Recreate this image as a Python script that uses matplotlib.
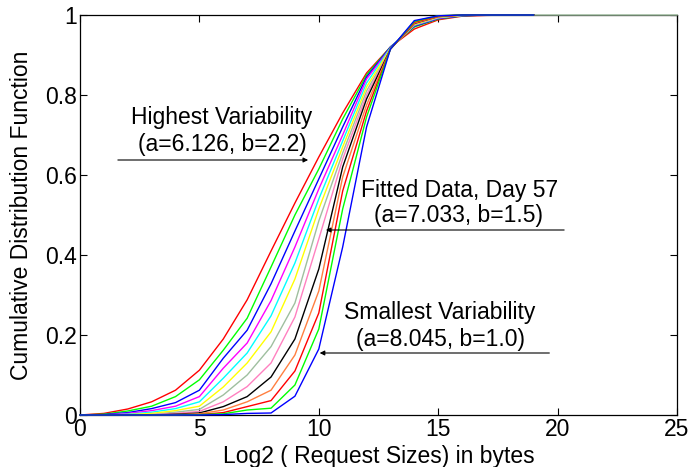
import matplotlib
matplotlib.use("Agg")
import matplotlib.pyplot as plt

plt.rcParams['font.family'] = ['Liberation Sans', 'DejaVu Sans']

# x positions (log2 request size)
x_vals = list(range(0, 20))
x_long = list(range(0, 26))

# CDF curves, from highest variability (left) to smallest variability (right)
c_red1 = [0, .004, .015, .033, .062, .112, .19, .288, .41, .53, .645, .755, .855, .92, .965, .988, .997, .999, 1, 1]
c_green1 = [0, .002, .010, .022, .046, .088, .162, .242, .37, .50, .615, .74, .85, .92, .97, .99, .998, 1, 1, 1]
c_blue1 = [0, .001, .006, .016, .031, .062, .142, .212, .328, .46, .59, .72, .845, .92, .972, .991, .998, 1, 1, 1]
c_magenta = [0, 0, .004, .011, .022, .046, .117, .18, .286, .42, .565, .70, .84, .918, .974, .992, .999, 1, 1, 1]
c_cyan = [0, 0, .002, .007, .016, .033, .092, .155, .248, .38, .54, .685, .83, .918, .975, .993, .999, 1, 1, 1]
c_yellow = [0, 0, .001, .004, .011, .022, .07, .13, .208, .34, .515, .67, .82, .916, .976, .994, .999, 1, 1, 1]
c_gray = [0, 0, 0, .002, .007, .014, .05, .10, .171, .28, .485, .655, .81, .915, .977, .995, 1, 1, 1, 1, 1, 1, 1, 1, 1, 1]
c_pink = [0, 0, 0, .001, .004, .009, .033, .071, .13, .245, .44, .64, .80, .915, .978, .995, 1, 1, 1, 1]
c_black = [0, 0, 0, 0, .002, .005, .021, .046, .095, .19, .365, .62, .79, .915, .979, .996, 1, 1, 1, 1]
c_orange = [0, 0, 0, 0, .001, .003, .0125, .033, .062, .15, .31, .595, .775, .915, .98, .996, 1, 1, 1, 1]
c_red2 = [0, 0, 0, 0, 0, .001, .006, .021, .036, .11, .255, .56, .76, .915, .982, .997, 1, 1, 1, 1]
c_green2 = [0, 0, 0, 0, 0, .001, .003, .0125, .017, .075, .215, .515, .745, .915, .984, .998, 1, 1, 1, 1]
c_blue2 = [0, 0, 0, 0, 0, 0, .001, .004, .005, .047, .165, .42, .72, .915, .986, .998, 1, 1, 1, 1]

curves = [c_gray, c_red1, c_green1, c_blue1, c_magenta, c_cyan, c_yellow,
          c_pink, c_black, c_orange, c_red2, c_green2, c_blue2]
colors = ['#9fbf9f', '#ff0000', '#00ff00', '#0000ff', '#ff00ff', '#00ffff', '#ffff00',
          '#ff80c0', '#000000', '#ff7f40', '#ff0000', '#00ff00', '#0000ff']

x_ticks = [0, 5, 10, 15, 20, 25]
y_ticks = [0, 0.2, 0.4, 0.6, 0.8, 1]
y_tick_labels = ['0', '0.2', '0.4', '0.6', '0.8', '1']

fig = plt.figure(figsize=(6.91, 4.67), dpi=100)
ax = fig.add_axes([80/691, 1-415/467, 597/691, 400/467])

for ys, col in zip(curves, colors):
    xs = x_long if len(ys) == len(x_long) else x_vals
    ax.plot(xs, ys, color=col, lw=1.0, zorder=3, clip_on=False)

ax.set_xlim(0, 25)
ax.set_ylim(0, 1)
ax.set_xticks(x_ticks)
ax.set_xticklabels([str(t) for t in x_ticks])
ax.set_yticks(y_ticks)
ax.set_yticklabels(y_tick_labels)
ax.tick_params(direction='in', top=True, right=True, length=5, width=0.8, labelsize=16.5, pad=2)
for s in ax.spines.values():
    s.set_linewidth(0.9)

ax.set_xlabel('Log2 ( Request Sizes) in bytes', fontsize=16.5, labelpad=3)
ax.set_ylabel('Cumulative Distribution Function', fontsize=16.5, labelpad=9)

fs = 16.5
ax.text(5.95, 0.743, 'Highest Variability', fontsize=fs, ha='center', va='center')
ax.text(5.98, 0.675, '(a=6.126, b=2.2)', fontsize=fs, ha='center', va='center')
ax.annotate('', xy=(9.67, 0.6375), xytext=(1.47, 0.6375),
            arrowprops=dict(arrowstyle='-|>', lw=0.8, color='black', mutation_scale=7))

ax.text(15.9, 0.562, 'Fitted Data, Day 57', fontsize=fs, ha='center', va='center')
ax.text(15.85, 0.498, '(a=7.033, b=1.5)', fontsize=fs, ha='center', va='center')
ax.annotate('', xy=(10.18, 0.4625), xytext=(20.39, 0.4625),
            arrowprops=dict(arrowstyle='-|>', lw=0.8, color='black', mutation_scale=7))

ax.text(15.08, 0.255, 'Smallest Variability', fontsize=fs, ha='center', va='center')
ax.text(15.08, 0.188, '(a=8.045, b=1.0)', fontsize=fs, ha='center', va='center')
ax.annotate('', xy=(9.92, 0.155), xytext=(19.77, 0.155),
            arrowprops=dict(arrowstyle='-|>', lw=0.8, color='black', mutation_scale=7))

fig.savefig('out.png', dpi=100)
